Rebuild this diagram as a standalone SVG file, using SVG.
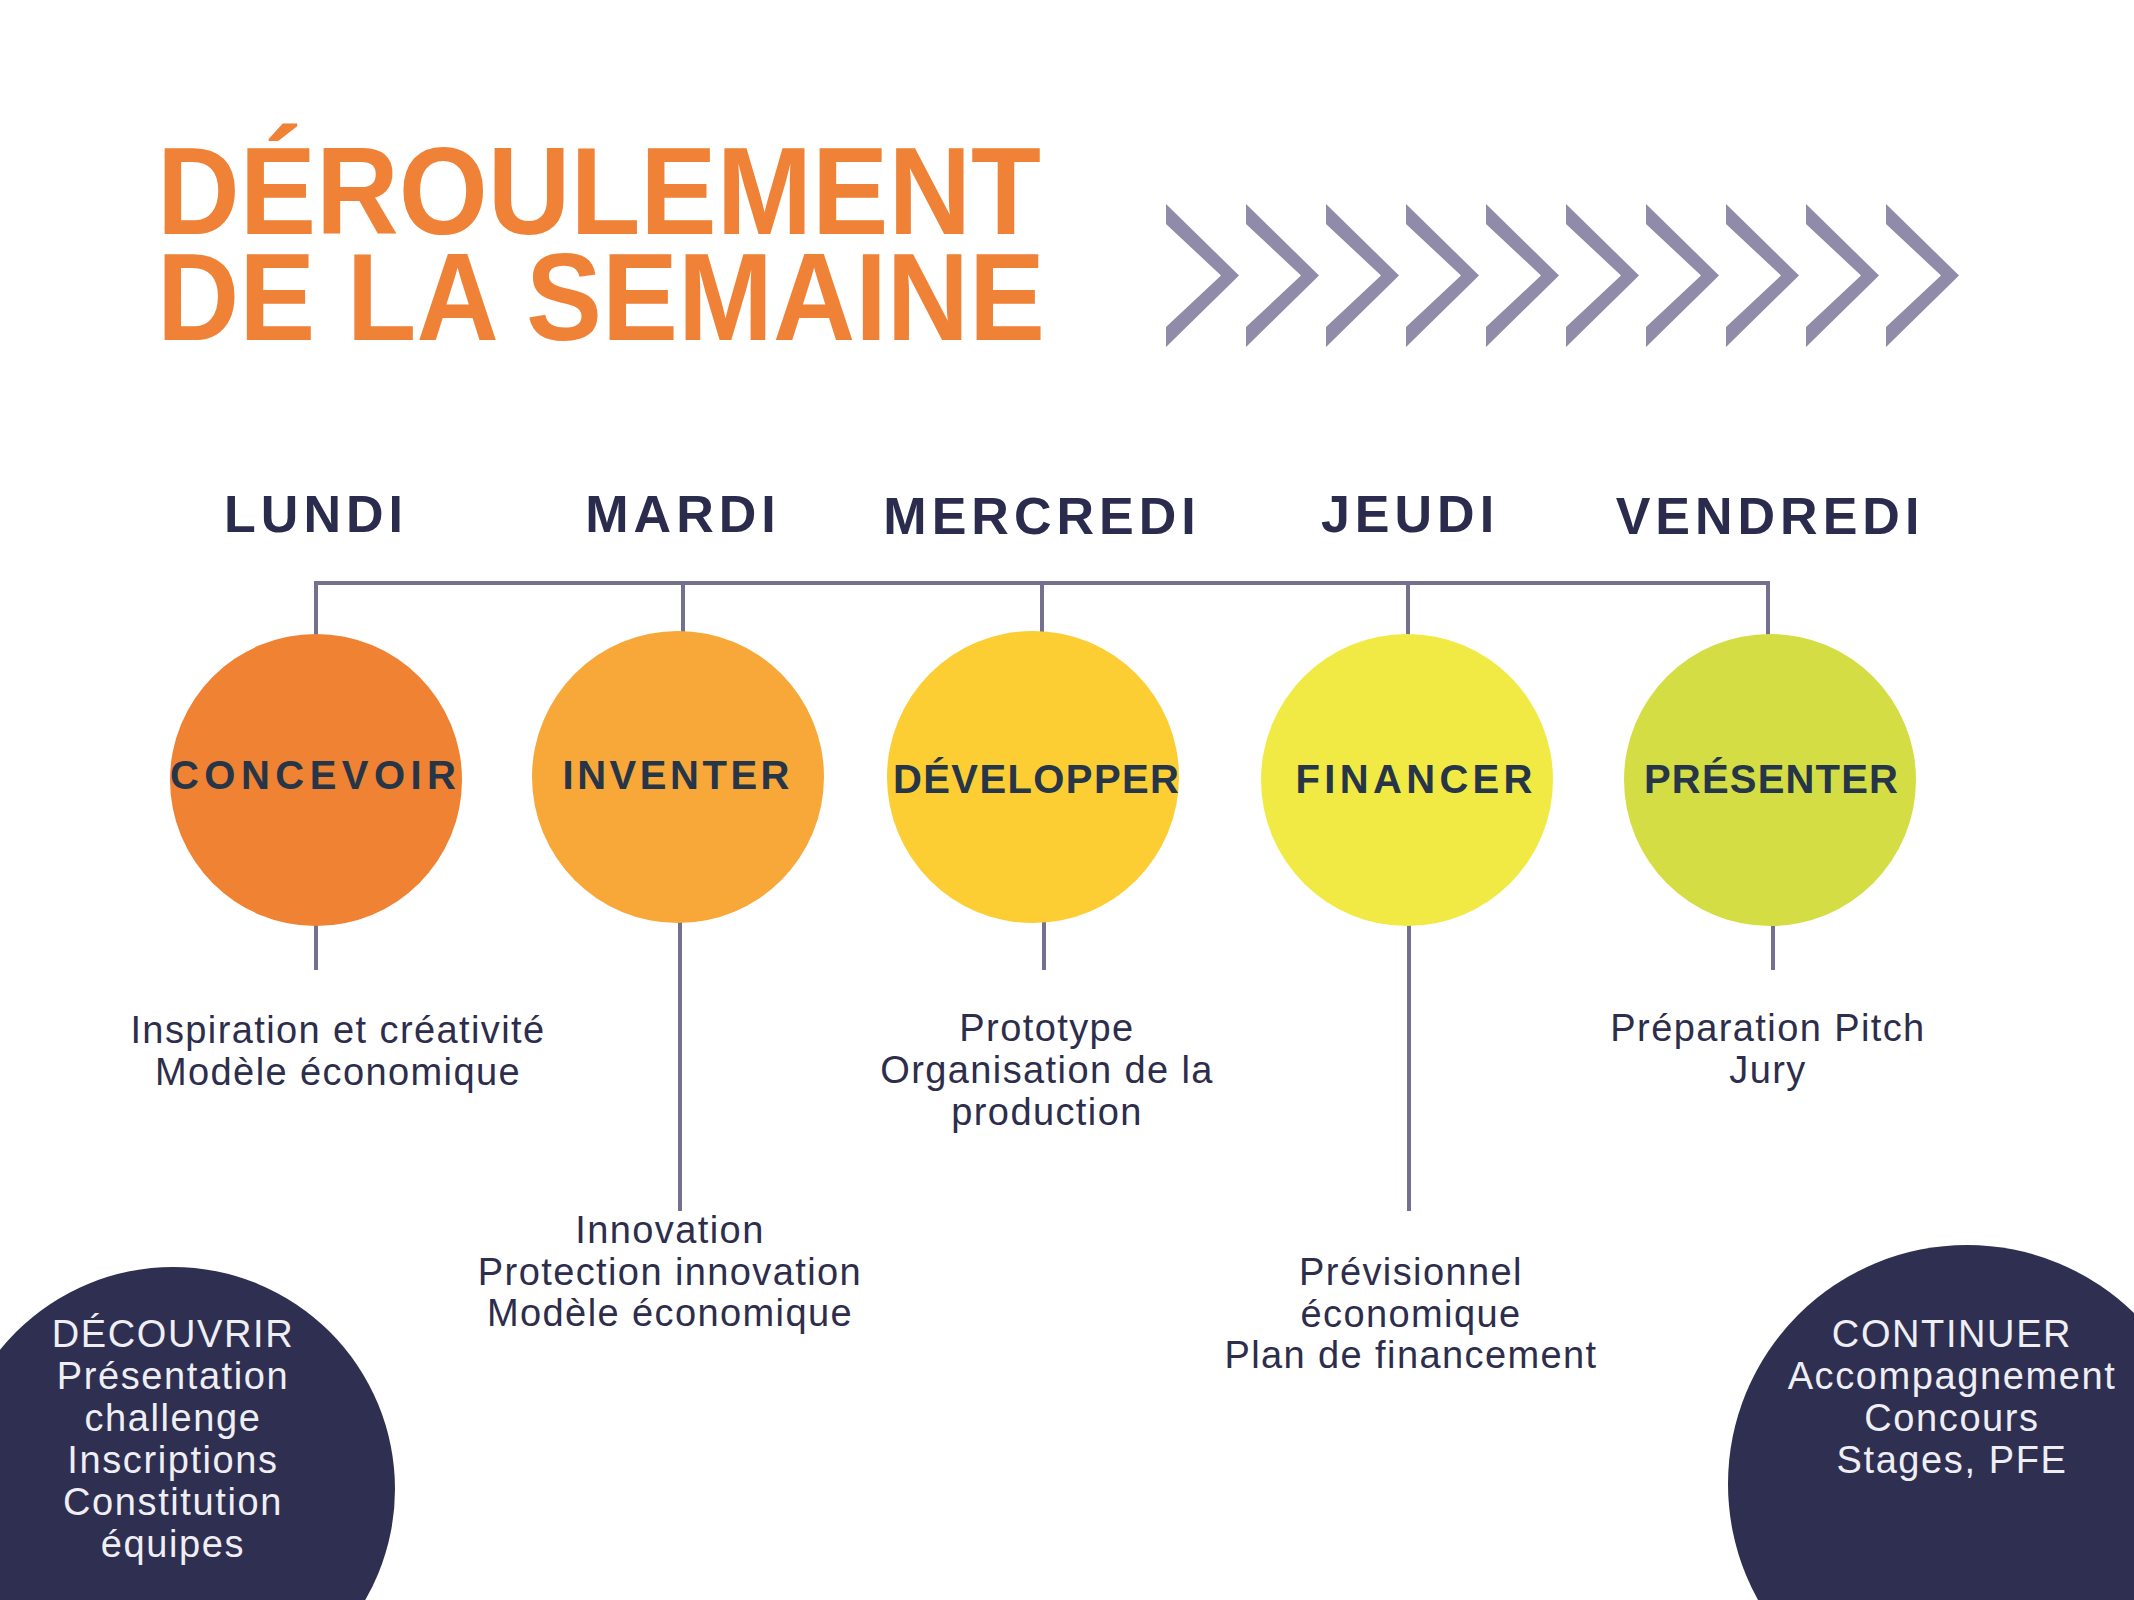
<svg xmlns="http://www.w3.org/2000/svg" width="2134" height="1600" viewBox="0 0 2134 1600">
<style>
.title{font-family:"Liberation Sans",Arial,sans-serif;font-weight:bold;font-size:125px;fill:#ef8236}
.day{font-family:"Liberation Sans",Arial,sans-serif;font-weight:bold;font-size:52px;fill:#2b2b4d;letter-spacing:5px;text-anchor:middle}
.lbl{font-family:"Liberation Sans",Arial,sans-serif;font-weight:bold;font-size:40px;fill:#263548;text-anchor:middle}
.desc{font-family:"Liberation Sans",Arial,sans-serif;font-size:38px;fill:#2d2d4c;letter-spacing:1.4px;text-anchor:middle}
.wht{font-family:"Liberation Sans",Arial,sans-serif;font-size:38px;fill:#eeeef3;letter-spacing:1.6px;text-anchor:middle}
.ln{stroke:#74708f;stroke-width:4;fill:none}
.chev{fill:#8f8ba9}
</style>
<defs>
<polygon id="chev" class="chev" points="0,204 73,275.5 0,347 0,327 55,275.5 0,224"/>
</defs>
<rect width="2134" height="1600" fill="#ffffff"/>
<g id="title">
<text class="title" x="157" y="234" textLength="884" lengthAdjust="spacingAndGlyphs">DÉROULEMENT</text>
<text class="title" x="157" y="340" textLength="888" lengthAdjust="spacingAndGlyphs">DE LA SEMAINE</text>
</g>
<g id="chevrons">
<use href="#chev" x="1166"/><use href="#chev" x="1246"/><use href="#chev" x="1326"/><use href="#chev" x="1406"/><use href="#chev" x="1486"/>
<use href="#chev" x="1566"/><use href="#chev" x="1646"/><use href="#chev" x="1726"/><use href="#chev" x="1806"/><use href="#chev" x="1886"/>
</g>
<g id="connectors">
<path class="ln" d="M316,583 H1768 M316,581 V640 M683,581 V640 M1042,581 V640 M1408,581 V640 M1768,581 V640"/>
<path class="ln" d="M316,920 V970 M680,915 V1211 M1044,920 V970 M1409,920 V1211 M1773,920 V970"/>
</g>
<g id="days">
<text class="day" x="316" y="532">LUNDI</text>
<text class="day" x="683" y="532">MARDI</text>
<text class="day" x="1042" y="534">MERCREDI</text>
<text class="day" x="1410" y="532">JEUDI</text>
<text class="day" x="1770" y="534">VENDREDI</text>
</g>
<g id="concevoir">
<circle cx="316" cy="780" r="146" fill="#ef8233"/>
<text class="lbl" x="313" y="789" textLength="286" lengthAdjust="spacing">CONCEVOIR</text>
</g>
<g id="inventer">
<circle cx="678" cy="777" r="146" fill="#f7a839"/>
<text class="lbl" x="676" y="789" textLength="227" lengthAdjust="spacing">INVENTER</text>
</g>
<g id="developper">
<circle cx="1033" cy="777" r="146" fill="#fdce34"/>
<text class="lbl" x="1036" y="793" textLength="286" lengthAdjust="spacing">DÉVELOPPER</text>
</g>
<g id="financer">
<circle cx="1407" cy="780" r="146" fill="#f2ea44"/>
<text class="lbl" x="1414" y="793" textLength="237" lengthAdjust="spacing">FINANCER</text>
</g>
<g id="presenter">
<circle cx="1770" cy="780" r="146" fill="#d4de44"/>
<text class="lbl" x="1771" y="793" textLength="254" lengthAdjust="spacing">PRÉSENTER</text>
</g>
<g id="desc-lundi">
<text class="desc" x="338" y="1043">Inspiration et créativité</text>
<text class="desc" x="338" y="1085">Modèle économique</text>
</g>
<g id="desc-mardi">
<text class="desc" x="670" y="1243">Innovation</text>
<text class="desc" x="670" y="1285">Protection innovation</text>
<text class="desc" x="670" y="1326">Modèle économique</text>
</g>
<g id="desc-mercredi">
<text class="desc" x="1047" y="1041">Prototype</text>
<text class="desc" x="1047" y="1083">Organisation de la</text>
<text class="desc" x="1047" y="1125">production</text>
</g>
<g id="desc-jeudi">
<text class="desc" x="1411" y="1285">Prévisionnel</text>
<text class="desc" x="1411" y="1327">économique</text>
<text class="desc" x="1411" y="1368">Plan de financement</text>
</g>
<g id="desc-vendredi">
<text class="desc" x="1768" y="1041">Préparation Pitch</text>
<text class="desc" x="1768" y="1083">Jury</text>
</g>
<g id="decouvrir">
<circle cx="173" cy="1489" r="222" fill="#2f2f52"/>
<text class="wht" x="173" y="1347">DÉCOUVRIR</text>
<text class="wht" x="173" y="1389">Présentation</text>
<text class="wht" x="173" y="1431">challenge</text>
<text class="wht" x="173" y="1473">Inscriptions</text>
<text class="wht" x="173" y="1515">Constitution</text>
<text class="wht" x="173" y="1557">équipes</text>
</g>
<g id="continuer">
<circle cx="1967" cy="1484" r="239" fill="#2f2f52"/>
<text class="wht" x="1952" y="1347">CONTINUER</text>
<text class="wht" x="1952" y="1389">Accompagnement</text>
<text class="wht" x="1952" y="1431">Concours</text>
<text class="wht" x="1952" y="1473">Stages, PFE</text>
</g>
</svg>
